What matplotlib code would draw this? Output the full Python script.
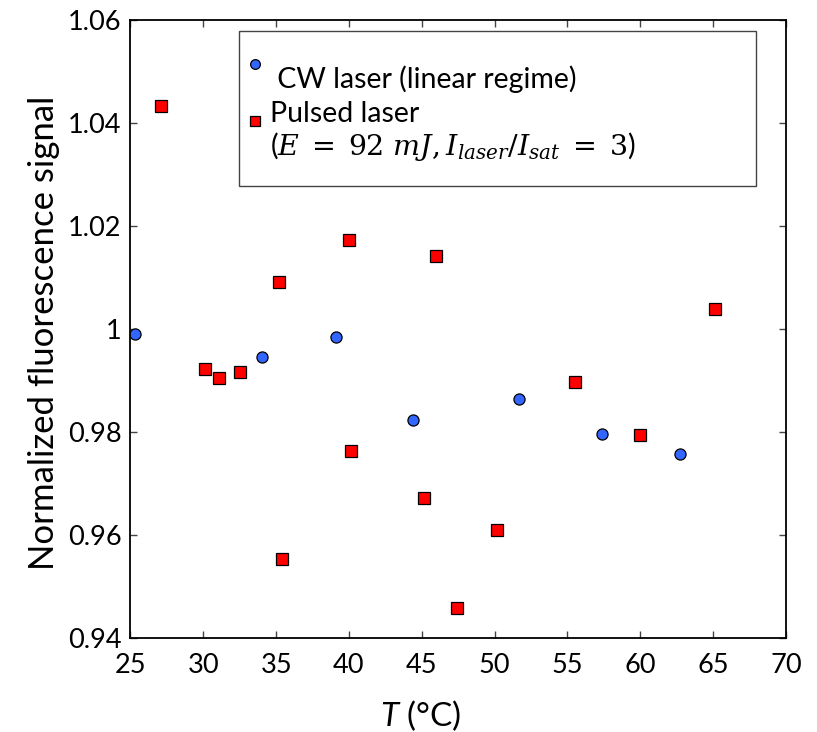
"""
Normalized fluorescence signal vs temperature: CW laser (linear regime)
against pulsed laser excitation.
"""
import matplotlib
matplotlib.use("Agg")
import matplotlib.pyplot as plt
import numpy as np
from matplotlib.legend_handler import HandlerLine2D
from matplotlib.lines import Line2D
from matplotlib.patches import Rectangle

# data
cw_temp = [25.3, 34.0, 39.1, 44.4, 51.7, 57.4, 62.7]
cw_signal = [0.9989, 0.9945, 0.9984, 0.9824, 0.9863, 0.9796, 0.9757]

pulsed_temp = [27.1, 30.1, 31.1, 32.55, 35.2, 35.4, 40.0, 40.15,
               45.15, 46.0, 47.4, 50.15, 55.5, 60.0, 65.15]
pulsed_signal = [1.0433, 0.9922, 0.9904, 0.9917, 1.0091, 0.9554, 1.0173, 0.9763,
                 0.9672, 1.0141, 0.9459, 0.9609, 0.9896, 0.9793, 1.0039]

x_ticks = [25, 30, 35, 40, 45, 50, 55, 60, 65, 70]
y_ticks = [0.94, 0.96, 0.98, 1.00, 1.02, 1.04, 1.06]
y_tick_labels = ["0.94", "0.96", "0.98", "1", "1.02", "1.04", "1.06"]

cw_label = " CW laser (linear regime)"
pulsed_label = "Pulsed laser\n($E\\;=\\;92\\ mJ, I_{laser}/I_{sat}\\;=\\;3$)"

plt.rcParams["font.family"] = ["Lato", "DejaVu Sans"]
plt.rcParams["mathtext.fontset"] = "custom"
plt.rcParams["mathtext.rm"] = "DejaVu Serif"
plt.rcParams["mathtext.it"] = "DejaVu Serif:italic"
plt.rcParams["mathtext.sf"] = "Lato:italic"


class ShiftedMarker(HandlerLine2D):
    """Legend marker moved up by dy (in font-size units), MATLAB style."""

    def __init__(self, dy, **kw):
        super().__init__(**kw)
        self.dy = dy

    def create_artists(self, legend, orig_handle, xdescent, ydescent,
                       width, height, fontsize, trans):
        artists = super().create_artists(legend, orig_handle, xdescent, ydescent,
                                         width, height, fontsize, trans)
        for a in artists:
            a.set_ydata(np.asarray(a.get_ydata()) + self.dy * fontsize)
        return artists


fig = plt.figure(figsize=(8.17, 7.32), dpi=100)
ax = fig.add_axes([0.1597, 0.1284, 0.8023, 0.8448])

ax.plot(cw_temp, cw_signal, linestyle="none", marker="o", markersize=8,
        markerfacecolor="#3366ff", markeredgecolor="black", markeredgewidth=0.9)
ax.plot(pulsed_temp, pulsed_signal, linestyle="none", marker="s", markersize=8.5,
        markerfacecolor="#ff0000", markeredgecolor="black", markeredgewidth=0.9)

ax.set_xlim(25, 70)
ax.set_ylim(0.94, 1.06)
ax.set_xticks(x_ticks)
ax.set_yticks(y_ticks)
ax.set_yticklabels(y_tick_labels)

ax.tick_params(axis="both", direction="in", top=True, right=True,
               length=5, width=1.0, color="#444444", labelsize=19.5)
ax.tick_params(axis="x", pad=11)
ax.tick_params(axis="y", pad=6.5)
for sp in ax.spines.values():
    sp.set_linewidth(1.3)

ax.set_xlabel("$\\mathsf{T}$ (°C)", fontsize=24)
ax.set_ylabel("Normalized fluorescence signal", fontsize=25)
ax.xaxis.set_label_coords(0.443, -0.097)
ax.yaxis.set_label_coords(-0.1075, 0.494)

# legend frame drawn separately (padding is uneven in the original)
ax.add_patch(Rectangle((0.1655, 0.7309), 0.7887, 0.2507, transform=ax.transAxes,
                       facecolor="white", edgecolor="#444444", linewidth=1.0,
                       zorder=4))

cw_key = Line2D([], [], linestyle="none", marker="o", markersize=7,
                markerfacecolor="#3366ff", markeredgecolor="black", markeredgewidth=0.9)
pulsed_key = Line2D([], [], linestyle="none", marker="s", markersize=7.5,
                    markerfacecolor="#ff0000", markeredgecolor="black", markeredgewidth=0.9)
leg = ax.legend([cw_key, pulsed_key], [cw_label, pulsed_label],
                handler_map={cw_key: ShiftedMarker(0.525, numpoints=1),
                             pulsed_key: ShiftedMarker(0.42, numpoints=1)},
                loc="upper left", bbox_to_anchor=(0.1777, 0.9252),
                frameon=False, borderpad=0, borderaxespad=0,
                handlelength=0.6, handletextpad=0.2, labelspacing=0.255,
                fontsize=20.5)
leg.set_zorder(5)
leg.get_texts()[1].set_linespacing(1.15)

fig.savefig("out.png", dpi=100)
plt.close(fig)
